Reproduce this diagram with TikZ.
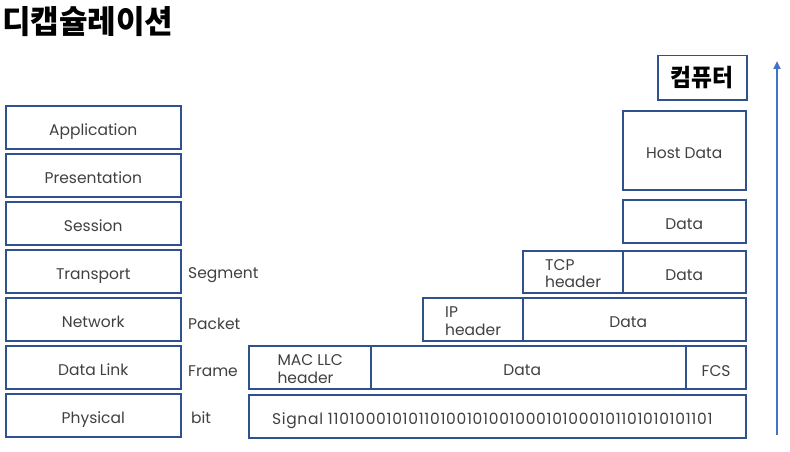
\documentclass[tikz,border=0pt]{standalone}
\usepackage{fontspec}
\setmainfont{Poppins}
\newfontfamily\kr{Noto Sans CJK KR}[FakeStretch=0.97]
\newfontfamily\krs{Noto Sans CJK KR}[FakeStretch=0.95]
\usetikzlibrary{arrows.meta}
\definecolor{bc}{HTML}{2F528F}
\definecolor{tc}{HTML}{404040}
\definecolor{ac}{HTML}{4472C4}
\tikzset{
  x=1pt, y=-1pt,
  layer/.style={draw=bc, line width=1.5pt, inner sep=0pt, anchor=north west, text=tc,
    font=\fontsize{15.5}{16}\selectfont, align=center, text height=17pt, text depth=0pt},
  hdr/.style={layer, line width=2.3pt, align=left, text height=31pt, font=\fontsize{15.5}{17.5}\selectfont},
  lbl/.style={anchor=base west, inner sep=0pt, text=tc, font=\fontsize{15.5}{16}\selectfont},
}
\begin{document}
\begin{tikzpicture}
\useasboundingbox (0,0) rectangle (790,452);
% title
\node[anchor=base west, inner sep=0pt, font=\kr\bfseries\fontsize{32}{36}\selectfont] (title) at (2,34) {디캡슐레이션};
% OSI layers
\node[layer, minimum width=175pt, minimum height=43pt] (app) at (5,105) {Application};
\node[layer, minimum width=175pt, minimum height=43pt] (pre) at (5,153) {Presentation};
\node[layer, minimum width=175pt, minimum height=43pt] (ses) at (5,201) {Session};
\node[layer, minimum width=175pt, minimum height=43pt] (tra) at (5,249) {Transport};
\node[layer, minimum width=175pt, minimum height=43pt] (net) at (5,297) {Network};
\node[layer, minimum width=175pt, minimum height=43pt] (dl) at (5,345) {Data Link};
\node[layer, minimum width=175pt, minimum height=43pt] (phy) at (5,393) {Physical};
% PDU labels
\node[lbl] (seg) at (188,278) {Segment};
\node[lbl] (pkt) at (188,329) {Packet};
\node[lbl] (frm) at (188,376) {Frame};
\node[lbl] (bit) at (191,423) {bit};
% computer
\node[layer, minimum width=89pt, minimum height=44pt, font=\krs\bfseries\fontsize{24}{28}\selectfont, text=black, text height=18pt] (pc) at (657,55) {컴퓨터};
% data units
\node[layer, minimum width=123pt, minimum height=79pt] (host) at (622,110) {Host Data};
\node[layer, minimum width=123pt, minimum height=43pt] (sdata) at (622,199) {Data};
\node[layer, minimum width=123pt, minimum height=42pt] (tdata) at (622,250) {Data};
\node[hdr, minimum width=100pt, minimum height=42pt] (tcp) at (522,250) {TCP\\header};
\node[layer, minimum width=223pt, minimum height=43pt] (ndata) at (522,297) {Data\hspace*{12pt}};
\node[hdr, minimum width=100pt, minimum height=43pt] (ip) at (422,297) {IP\\header};
\node[layer, minimum width=315pt, minimum height=43pt] (ddata) at (370,345) {Data\hspace*{12pt}};
\node[hdr, minimum width=122pt, minimum height=43pt] (mac) at (248,345) {MAC LLC\\header};
\node[hdr, minimum width=60pt, minimum height=43pt, text height=17pt] (fcs) at (685,345) {FCS};
\node[layer, minimum width=497pt, minimum height=43pt, font=\fontsize{15.5}{16}\selectfont\addfontfeature{LetterSpace=4.5}] (sig) at (248,394) {Signal 11010001010110100101001000101000101101010101101\hspace*{10pt}};
% arrow
\coordinate (a0) at (777,435);
\coordinate (a1) at (777,61);
\draw[ac, line width=2pt, -{Triangle[width=7pt,length=8pt]}] (a0) -- (a1);
\end{tikzpicture}
\end{document}
